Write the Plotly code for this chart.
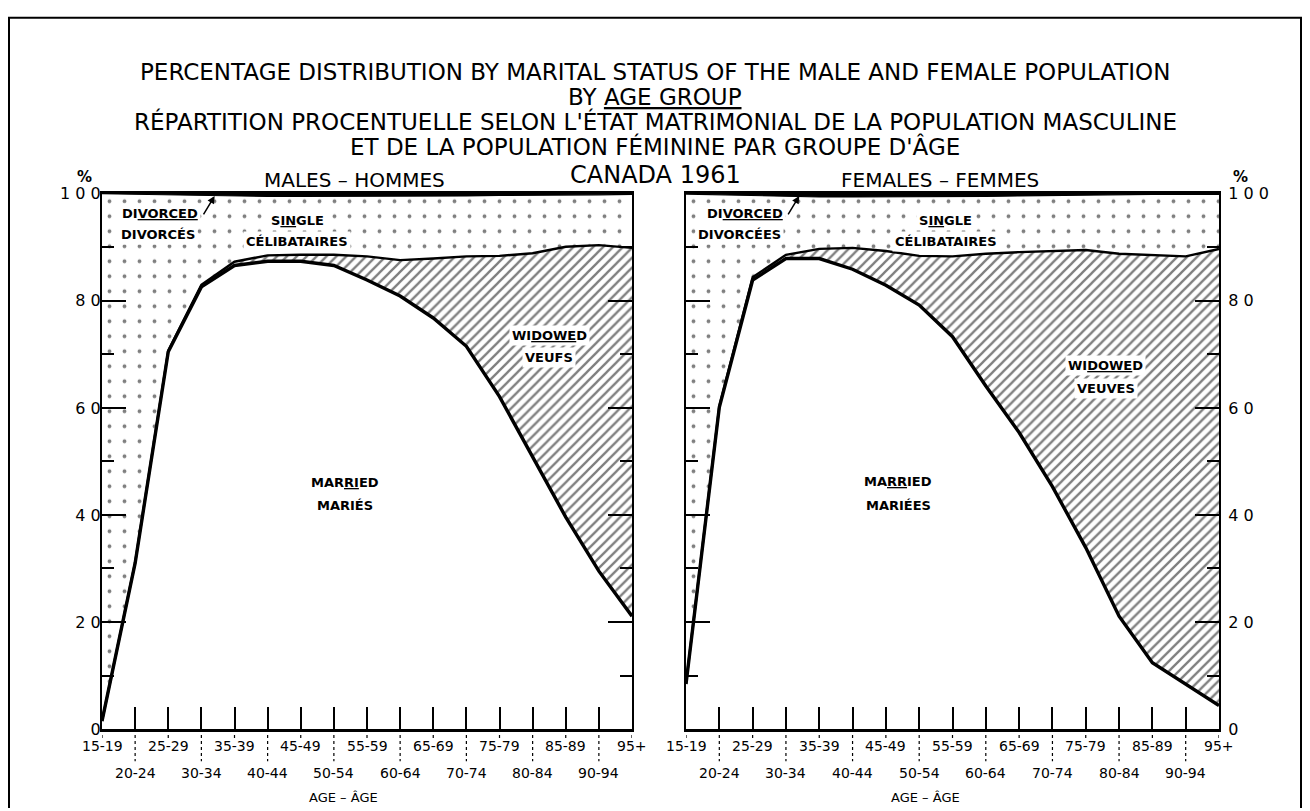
import numpy as np
import plotly.graph_objects as go

# ---------------- data ----------------
age_groups = ["15-19", "20-24", "25-29", "30-34", "35-39", "40-44", "45-49", "50-54",
              "55-59", "60-64", "65-69", "70-74", "75-79", "80-84", "85-89", "90-94", "95+"]

male_married = [1.5, 31.0, 70.5, 82.6, 86.6, 87.4, 87.4, 86.6, 83.9, 80.9, 76.8, 71.5,
                62.1, 50.7, 39.6, 29.5, 21.1]
male_widowed = [0.0, 0.1, 0.2, 0.4, 0.7, 1.1, 1.2, 2.0, 4.4, 6.7, 11.1, 16.8,
                26.3, 38.2, 50.5, 60.9, 68.8]
male_divorced = [0.0, 0.1, 0.3, 0.4, 0.5, 0.5, 0.5, 0.5, 0.5, 0.5, 0.4, 0.4,
                 0.3, 0.3, 0.2, 0.2, 0.1]

female_married = [8.4, 60.1, 83.9, 87.9, 87.9, 85.9, 82.9, 79.2, 73.3, 64.1, 55.4, 45.3,
                  33.9, 21.1, 12.4, 8.4, 4.4]
female_widowed = [0.1, 0.2, 0.5, 0.7, 1.8, 4.0, 6.4, 9.2, 15.0, 24.7, 33.7, 44.0,
                  55.6, 67.7, 76.2, 79.9, 85.3]
female_divorced = [0.05, 0.2, 0.4, 0.5, 0.6, 0.6, 0.6, 0.6, 0.5, 0.5, 0.4, 0.3,
                   0.3, 0.2, 0.1, 0.1, 0.1]

y_tick_values = [0, 20, 40, 60, 80, 100]
y_tick_labels = ["0", "2 0", "4 0", "6 0", "8 0", "1 0 0"]

title_lines = [
    "PERCENTAGE DISTRIBUTION BY MARITAL STATUS OF THE MALE AND FEMALE POPULATION",
    "BY <u>AGE GROUP</u>",
    "RÉPARTITION PROCENTUELLE SELON L'ÉTAT MATRIMONIAL DE LA POPULATION MASCULINE",
    "ET DE LA POPULATION FÉMININE PAR GROUPE D'ÂGE",
]
subtitle = "CANADA 1961"
panel_titles = ["MALES – HOMMES", "FEMALES – FEMMES"]
axis_title = "AGE – ÂGE"

FONT = "DejaVu Sans"
x = list(range(len(age_groups)))

fig = go.Figure()


def add_panel(married, widowed, divorced, xa, ya):
    m = np.array(married)
    mw = m + np.array(widowed)
    top_single = 100 - np.array(divorced)
    full = np.full(len(x), 100.0)
    common = dict(x=x, xaxis=xa, yaxis=ya, mode="lines", hoverinfo="skip", showlegend=False)
    fig.add_trace(go.Scatter(y=m, fill="tozeroy", fillcolor="white",
                             line=dict(width=0, color="black"), **common))
    fig.add_trace(go.Scatter(y=mw, fill="tonexty",
                             fillpattern=dict(shape="/", fgcolor="black", bgcolor="white",
                                              size=7, solidity=0.33),
                             line=dict(width=0, color="black"), **common))
    fig.add_trace(go.Scatter(y=top_single, fill="tonexty",
                             fillpattern=dict(shape=".", fgcolor="black", bgcolor="white",
                                              size=15, solidity=0.05),
                             line=dict(width=0, color="black"), **common))
    fig.add_trace(go.Scatter(y=full, fill="tonexty", fillcolor="black",
                             line=dict(width=0, color="black"), **common))
    fig.add_trace(go.Scatter(y=mw, line=dict(width=2.4, color="black"), **common))
    fig.add_trace(go.Scatter(y=m, line=dict(width=3.4, color="black"), **common))
    fig.add_trace(go.Scatter(y=top_single, line=dict(width=1.2, color="black"), **common))


add_panel(male_married, male_widowed, male_divorced, "x", "y")
add_panel(female_married, female_widowed, female_divorced, "x2", "y2")

# The page places the figure 8px from the left and ~16px from the top;
# vertically the rendered figure spans (H - 18) px.
OFF_X, OFF_Y = 8, 16
W, H = 1294, 800
H_EFF = H - 18


def px_x(p):
    return (p - OFF_X) / W


def px_y(p):
    return 1 - (p - OFF_Y) / H_EFF


xdom1 = [px_x(102), px_x(632)]
xdom2 = [px_x(686), px_x(1219)]
ydom = [px_y(729), px_y(193)]

xaxis_common = dict(range=[0, len(x) - 1], tickvals=x, showticklabels=False,
                    ticks="inside", ticklen=22, tickwidth=2, tickcolor="black",
                    showline=True, linecolor="black", linewidth=2.5, mirror=True,
                    showgrid=False, zeroline=False, fixedrange=True)
yaxis_common = dict(range=[0, 100], tickvals=y_tick_values, ticktext=y_tick_labels,
                    ticks="inside", ticklen=24, tickwidth=2, tickcolor="black",
                    minor=dict(tickvals=[10, 30, 50, 70, 90], ticks="inside", ticklen=12,
                               tickwidth=1.5, tickcolor="black"),
                    showline=True, linecolor="black", linewidth=2, mirror="ticks",
                    showgrid=False, zeroline=False,
                    tickfont=dict(family=FONT, size=16, color="black"), fixedrange=True)

fig.update_layout(
    width=W, height=H,
    margin=dict(l=0, r=0, t=0, b=0),
    paper_bgcolor="white", plot_bgcolor="white",
    xaxis=dict(domain=xdom1, anchor="y", **xaxis_common),
    xaxis2=dict(domain=xdom2, anchor="y2", **xaxis_common),
    yaxis=dict(domain=ydom, anchor="x", side="left", ticklabelstandoff=-4, **yaxis_common),
    yaxis2=dict(domain=ydom, anchor="x2", side="right", ticklabelstandoff=4, **yaxis_common),
    showlegend=False,
)

ann = []


def paper_text(text, X, Y, size, bold=False):
    ann.append(dict(text=f"<b>{text}</b>" if bold else text, x=px_x(X), y=px_y(Y),
                    xref="paper", yref="paper", showarrow=False,
                    xanchor="center", yanchor="middle",
                    font=dict(family=FONT, size=size, color="black")))


for t, yy in zip(title_lines, [71, 96, 121, 146]):
    paper_text(t, 655, yy, 23)
paper_text(subtitle, 655, 174, 24)
paper_text(panel_titles[0], 355, 179, 20)
paper_text(panel_titles[1], 940, 179, 20)
paper_text("%", 84, 176, 15, bold=True)
paper_text("%", 1240, 176, 15, bold=True)

for xa, cx in (("x", 343), ("x2", 925)):
    for i, lbl in enumerate(age_groups):
        ann.append(dict(text=lbl, x=i, xref=xa, y=px_y(746 if i % 2 == 0 else 773),
                        yref="paper", showarrow=False, xanchor="center", yanchor="middle",
                        font=dict(family=FONT, size=14, color="black")))
    paper_text(axis_title, cx, 797, 13)

lab_font = dict(family=FONT, size=13, color="black")


def label(text, xx, yy, xa, ya, bg="white"):
    d = dict(text=f"<b>{text}</b>", x=xx, y=yy, xref=xa, yref=ya, showarrow=False,
             xanchor="center", yanchor="middle", font=lab_font)
    if bg:
        d.update(bgcolor=bg, borderpad=2)
    ann.append(d)


# male labels
label("DI<u>VORCED</u>", 1.75, 96.4, "x", "y")
label("DIVORCÉS", 1.7, 92.3, "x", "y")
label("S<u>IN</u>GLE", 5.9, 95.0, "x", "y")
label("CÉLIBATAIRES", 5.9, 91.0, "x", "y")
label("WI<u>DOWE</u>D", 13.5, 73.5, "x", "y")
label("VEUFS", 13.5, 69.4, "x", "y")
label("MAR<u>RI</u>ED", 7.35, 46.1, "x", "y", None)
label("MARIÉS", 7.35, 41.8, "x", "y", None)
# female labels
label("DI<u>VORCED</u>", 1.77, 96.4, "x2", "y2")
label("DIVORCÉES", 1.62, 92.3, "x2", "y2")
label("S<u>IN</u>GLE", 7.8, 95.0, "x2", "y2")
label("CÉLIBATAIRES", 7.8, 91.0, "x2", "y2")
label("WI<u>DOWE</u>D", 12.6, 67.9, "x2", "y2")
label("VEUVES", 12.6, 63.6, "x2", "y2")
label("MA<u>RR</u>IED", 6.37, 46.3, "x2", "y2", None)
label("MARIÉES", 6.37, 41.8, "x2", "y2", None)

for xa, ya in (("x", "y"), ("x2", "y2")):
    ann.append(dict(text="", x=3.4, y=99.6, xref=xa, yref=ya, showarrow=True, arrowhead=2,
                    arrowsize=1, arrowwidth=1.5, arrowcolor="black", ax=-12, ay=20))

fig.update_layout(annotations=ann)

shapes = []
for xa, ya in (("x", "y"), ("x2", "y2")):
    for i in x:
        shapes.append(dict(type="line", xref=xa, yref=ya + " domain", x0=i, x1=i,
                           y0=0, y1=-0.018 if i % 2 == 0 else -0.06,
                           line=dict(color="black", width=1.2, dash="dot")))
shapes.append(dict(type="rect", xref="paper", yref="paper", x0=px_x(9), x1=px_x(1301),
                   y0=-0.05, y1=0.999, line=dict(color="black", width=2)))
fig.update_layout(shapes=shapes)

fig.write_html("out.html")
